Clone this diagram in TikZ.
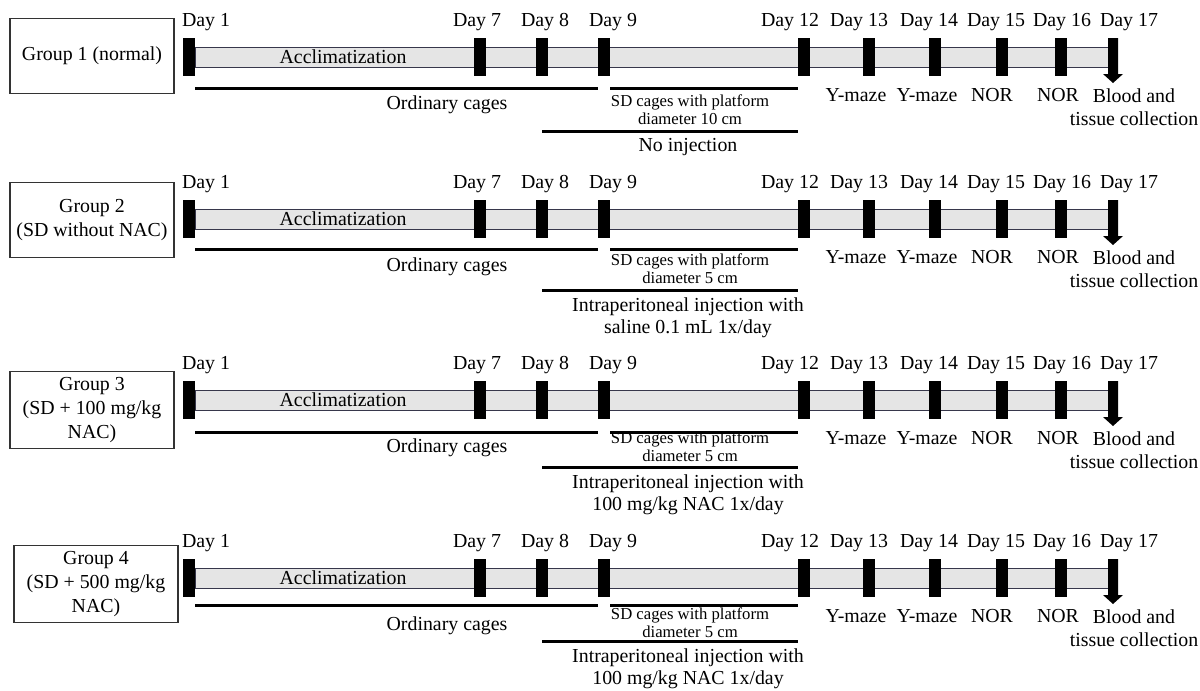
\documentclass[tikz,border=0pt]{standalone}
\usepackage{fontspec}
\setmainfont{Liberation Serif}

\definecolor{barfill}{RGB}{229,229,229}
\definecolor{baredge}{RGB}{55,55,75}

\tikzset{
  grpbox/.style={draw=black!80, line width=0.7pt, minimum width=3.28cm, minimum height=1.5cm,
    align=center, font=\fontsize{11.3}{13.5}\selectfont},
  dayblk/.style={fill=black, inner sep=0pt, minimum width=0.24cm, minimum height=0.76cm},
  daylbl/.style={inner sep=0pt, font=\fontsize{11.3}{13.5}\selectfont},
  txt/.style={inner sep=0pt, align=center, font=\fontsize{11.3}{13}\selectfont},
  small/.style={inner sep=0pt, align=center, font=\fontsize{9.5}{10.2}\selectfont},
  span/.style={line width=1.7pt},
  bar/.style={fill=barfill, draw=baredge, line width=0.5pt}
}

\begin{document}
\begin{tikzpicture}[x=0.02cm, y=-0.02cm]
  \useasboundingbox (0,0) rectangle (1200,690);

  \foreach \r/\y/\gy/\gx/\oo/\so/\io/\grp/\dia/\inj in {
      1/57/56/92/31/37/74/{Group 1 (normal)}/10/{No injection},
      2/219/220/92/30/34/71/{Group 2\\(SD without NAC)}/5/{Intraperitoneal injection with\\saline 0.1 mL 1x/day},
      3/400/410/92/32/31/67/{Group 3\\(SD + 100 mg/kg\\NAC)}/5/{Intraperitoneal injection with\\100 mg/kg NAC 1x/day},
      4/578/584/96/27/29/63/{Group 4\\(SD + 500 mg/kg\\NAC)}/5/{Intraperitoneal injection with\\100 mg/kg NAC 1x/day}} {

    % group label
    \node[grpbox] (g\r) at (\gx,\gy) {\grp};

    % trace
    \draw[bar] (195,{\y-10}) rectangle (1110,{\y+10});
    \node[txt] (acc\r) at (343,\y) {Acclimatization};

    % day blocks and labels
    \foreach \d/\bx/\lx in {1/189/206, 7/480/477, 8/542/545, 9/604/613, 12/804/790,
        13/869/859, 14/935/929, 15/1002/996, 16/1061/1062} {
      \node[dayblk] (b\r-\d) at (\bx,\y) {};
      \node[daylbl] (l\r-\d) at (\lx,{\y-35}) {Day \d};
    }

    % last day arrow
    \fill (1108,{\y-19}) -- (1118,{\y-19}) -- (1118,{\y+17}) -- (1123,{\y+17})
      -- (1113,{\y+26}) -- (1103,{\y+17}) -- (1108,{\y+17}) -- cycle;
    \node[daylbl] (l\r-17) at (1129,{\y-35}) {Day 17};

    % housing and treatment spans
    \draw[span] ([yshift={-(\oo-19)*0.02cm}]b\r-1.south east) -- ([yshift={-(\oo-19)*0.02cm}]b\r-9.south west);
    \draw[span] ([yshift={-(\oo-19)*0.02cm}]b\r-9.south east) -- ([yshift={-(\oo-19)*0.02cm}]b\r-12.south west);
    \draw[span] ([yshift={-(\io-19)*0.02cm}]b\r-8.south) -- ([yshift={-(\io-19)*0.02cm}]b\r-12.south west);

    \node[txt] (oc\r) at (447,{\y+48}) {Ordinary cages};
    \node[small, anchor=north] (sd\r) at (690,{\y+\so}) {SD cages with platform\\diameter \dia\ cm};
    \node[txt, anchor=north] (inj\r) at (688,{\y+\io+7}) {\inj};

    % tests
    \node[txt] (t\r-13) at (856,{\y+38}) {Y-maze};
    \node[txt] (t\r-14) at (927,{\y+38}) {Y-maze};
    \node[txt] (t\r-15) at (992,{\y+38}) {NOR};
    \node[txt] (t\r-16) at (1058,{\y+38}) {NOR};
    \node[txt] (t\r-17) at (1134,{\y+50}) {Blood and\\tissue collection};
  }
\end{tikzpicture}
\end{document}
